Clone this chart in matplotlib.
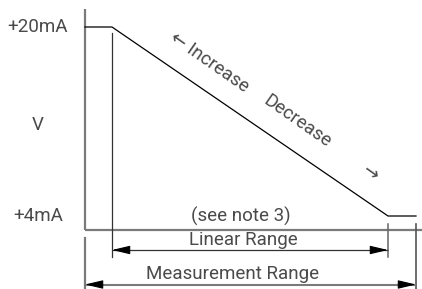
import matplotlib.pyplot as plt

plt.rcParams['font.family'] = ['Roboto', 'DejaVu Sans']

# signal curve: input position (px-like units) vs output current (mA)
sig_x = [85, 112, 388, 416]
sig_y = [20, 20, 4, 4]

linear_range = [112, 388]
meas_range = [85, 416]

y_labels = ["+20mA", "+4mA"]
y_ticks = [20, 4]

txt = "#4a4a4a"
gray = "#7a7a7a"
fs = 13.5

fig = plt.figure(figsize=(4.22, 2.89), dpi=100)
ax = fig.add_axes([0, 0, 1, 1])
ax.set_xlim(0, 422)
# 11.8125 px per mA, 20mA at y=27px, 4mA at y=216px
ax.set_ylim(4 - 73 / 11.8125, 20 + 27 / 11.8125)
ax.axis("off")

def py(p):
    # pixel row -> mA
    return 4 - (p - 216) / 11.8125

base = py(230)

# axes
ax.plot([85, 85], [py(9), base], color=gray, lw=1.6, solid_capstyle="butt")
ax.plot([85, 422], [base, base], color=gray, lw=1.6, solid_capstyle="butt")

# signal
ax.plot(sig_x, sig_y, color="black", lw=0.9)

# y labels
for lab, v in zip(y_labels, y_ticks):
    ax.text(38, v, lab, ha="center", va="center", fontsize=fs, color=txt)
ax.text(38, py(125), "V", ha="center", va="center", fontsize=fs, color=txt)

# range extension lines
ax.plot([linear_range[0]] * 2, [py(33), py(257)], color="#333333", lw=0.9)
ax.plot([linear_range[1]] * 2, [py(224), py(257)], color="#666666", lw=1.1)
ax.plot([meas_range[0]] * 2, [py(238), py(289)], color=gray, lw=1.6)
ax.plot([meas_range[1]] * 2, [py(224), py(289)], color="#555555", lw=1.2)

head = dict(arrowstyle="-|>,head_length=1.1,head_width=0.26", color="black",
            lw=0.8, shrinkA=0, shrinkB=0, mutation_scale=10)

def dim(x0, x1, y, col, lw):
    ax.plot([x0, x1], [y, y], color=col, lw=lw, solid_capstyle="butt")
    ax.annotate("", xy=(x0, y), xytext=(x0 + 15, y), arrowprops=head)
    ax.annotate("", xy=(x1, y), xytext=(x1 - 15, y), arrowprops=head)

dim(linear_range[0], linear_range[1], py(250), "#333333", 0.9)
dim(meas_range[0], meas_range[1], py(284.5), gray, 1.5)

ax.text(241, py(216), "(see note 3)", ha="center", va="center", fontsize=fs,
        color=txt)
ax.text(243, py(240), "Linear Range", ha="center", va="center", fontsize=fs,
        color=txt)
ax.text(233, py(274), "Measurement Range", ha="center", va="center", fontsize=fs,
        color=txt)

# direction labels along slope
ax.text(209, py(62), "\u2190 Increase", ha="center", va="center", fontsize=fs,
        color=txt, rotation=-35, rotation_mode="anchor")
ax.text(297, py(121), "Decrease", ha="center", va="center", fontsize=fs,
        color=txt, rotation=-35, rotation_mode="anchor")
ax.text(370, py(174), "\u2192", ha="center", va="center", fontsize=fs,
        color=txt, rotation=-35, rotation_mode="anchor")

plt.savefig("out.png", dpi=100)
